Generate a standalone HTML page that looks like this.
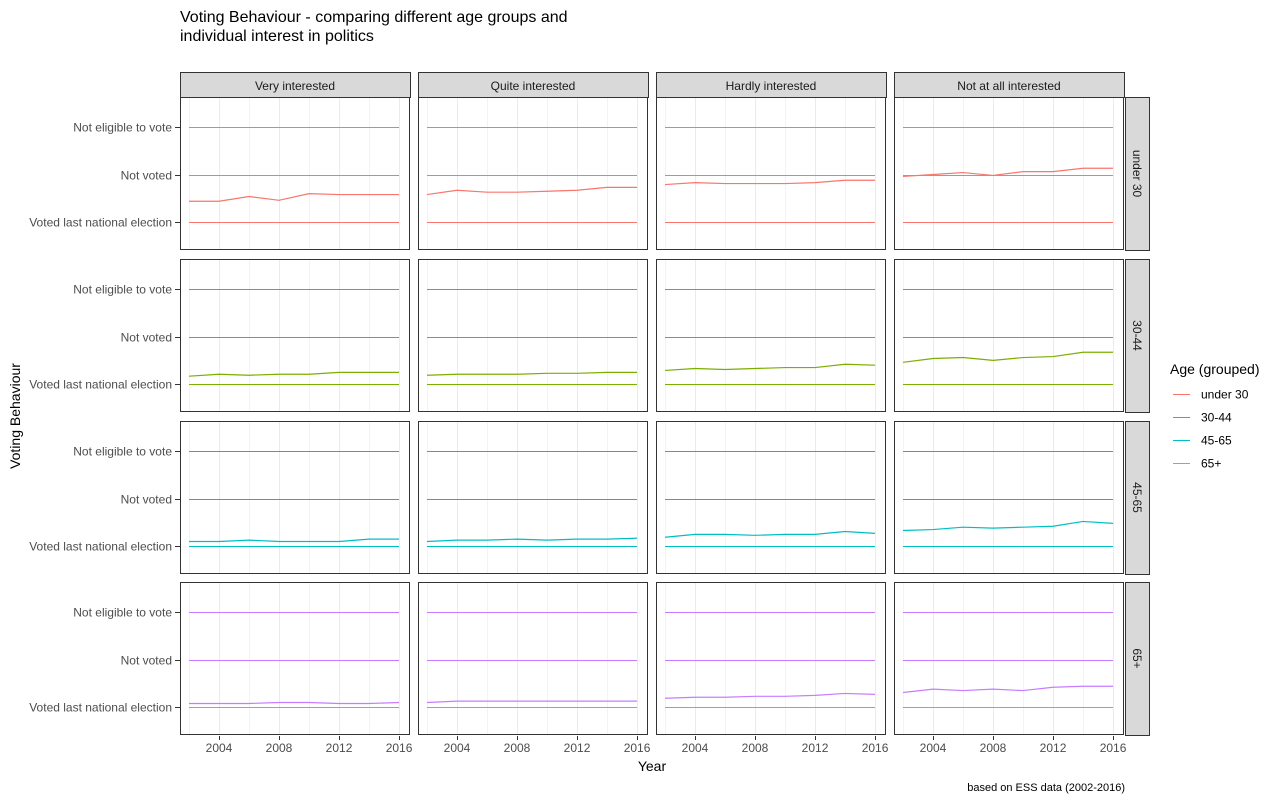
<!DOCTYPE html>
<html><head><meta charset="utf-8"><style>
body{margin:0;background:#fff;}
svg{display:block;font-family:"Liberation Sans",Arial,sans-serif;}
</style></head><body>
<svg id="chart" width="1278" height="800" viewBox="0 0 1278 800"></svg>
<script>
const years=[2002,2004,2006,2008,2010,2012,2014,2016];
const interestCols=["Very interested","Quite interested","Hardly interested","Not at all interested"];
const ageRows=["under 30","30-44","45-65","65+"];
const yLabels=["Voted last national election","Not voted","Not eligible to vote"];
const xTicks=[2004,2008,2012,2016];
const colors=["#F8766D","#7CAE00","#00BFC4","#C77CFF"];
const u30=[[1.44,1.44,1.54,1.46,1.60,1.58,1.58,1.58],[1.58,1.67,1.63,1.63,1.65,1.67,1.73,1.73],[1.79,1.83,1.81,1.81,1.81,1.83,1.88,1.88],[1.96,2.0,2.04,1.98,2.06,2.06,2.13,2.13]];
const a3044=[[1.17,1.21,1.19,1.21,1.21,1.25,1.25,1.25],[1.19,1.21,1.21,1.21,1.23,1.23,1.25,1.25],[1.29,1.33,1.31,1.33,1.35,1.35,1.42,1.40],[1.46,1.54,1.56,1.50,1.56,1.58,1.67,1.67]];
const a4565=[[1.10,1.10,1.13,1.10,1.10,1.10,1.15,1.15],[1.10,1.13,1.13,1.15,1.13,1.15,1.15,1.17],[1.19,1.25,1.25,1.23,1.25,1.25,1.31,1.27],[1.33,1.35,1.40,1.38,1.40,1.42,1.52,1.48]];
const a65=[[1.08,1.08,1.08,1.10,1.10,1.08,1.08,1.10],[1.10,1.13,1.13,1.13,1.13,1.13,1.13,1.13],[1.19,1.21,1.21,1.23,1.23,1.25,1.29,1.27],[1.31,1.38,1.35,1.38,1.35,1.42,1.44,1.44]];
const series=[u30,a3044,a4565,a65];

const svg=document.getElementById('chart');
const NS='http://www.w3.org/2000/svg';
function mk(t,a,p){const e=document.createElementNS(NS,t);for(const k in a)e.setAttribute(k,a[k]);(p||svg).appendChild(e);return e;}
const colX=[180,418,656,894],pw=230;
const rowY=[97,259,421,582],ph=153;
const x0=2001.4,x1=2016.73,y0=0.4,y1=3.6;
function sx(c,v){return colX[c]+(v-x0)/(x1-x0)*pw;}
function sy(r,v){return rowY[r]+ph-(v-y0)/(y1-y0)*ph+1;}
function snap(v){return Math.round(v)+0.5;}

let t=mk('text',{x:180,y:22,'font-size':16,fill:'#000'});t.textContent='Voting Behaviour - comparing different age groups and';

t=mk('text',{x:180,y:41,'font-size':16,fill:'#000'});t.textContent='individual interest in politics';


for(let c=0;c<4;c++){
  const s=mk('rect',{x:colX[c]+0.5,y:72.5,width:pw,height:25,fill:'#D9D9D9',stroke:'#333','stroke-width':1});
  
  const st=mk('text',{x:colX[c]+pw/2,y:90,'font-size':12,'text-anchor':'middle',fill:'#1a1a1a'});st.textContent=interestCols[c];
  
}
for(let r=0;r<4;r++){
  const s=mk('rect',{x:1125.5,y:rowY[r]+0.5,width:24,height:ph,fill:'#D9D9D9',stroke:'#333','stroke-width':1});
  
  const cy=rowY[r]+ph/2;
  const st=mk('text',{x:1137,y:cy,'font-size':12,'text-anchor':'middle',fill:'#1a1a1a',transform:`rotate(90 1137 ${cy}) translate(0 4)`});st.textContent=ageRows[r];
  
  for(let i=0;i<3;i++){
    const yy=snap(sy(r,i+1));
    const lt=mk('text',{x:172,y:yy+4,'font-size':12,'text-anchor':'end',fill:'#4D4D4D'});lt.textContent=yLabels[i];
    
    mk('line',{x1:175,x2:180,y1:yy,y2:yy,stroke:'#333'});
  }
  for(let c=0;c<4;c++){
    const g=mk('g',{});
    mk('rect',{x:colX[c],y:rowY[r],width:pw,height:ph,fill:'#fff'},g);
    for(const yr of years){const xx=snap(sx(c,yr));mk('line',{x1:xx,x2:xx,y1:rowY[r],y2:rowY[r]+ph,stroke:'#EBEBEB','stroke-width':xTicks.includes(yr)?1:0.6},g);}
    for(let i=0;i<3;i++){
      const yy=snap(sy(r,i+1));
      const l=mk('line',{x1:sx(c,years[0]),x2:sx(c,years[years.length-1]),y1:yy,y2:yy,stroke:colors[r],'stroke-width':1},g);
      
    }
    const pts=years.map((yr,i)=>sx(c,yr)+','+sy(r,series[r][c][i])).join(' ');
    const pl=mk('polyline',{points:pts,fill:'none',stroke:colors[r],'stroke-width':1.2},g);
    
    mk('rect',{x:colX[c]+0.5,y:rowY[r]+0.5,width:pw-1,height:ph-1,fill:'none',stroke:'#333','stroke-width':1},g);
  }
}
for(let c=0;c<4;c++){
  for(const yr of xTicks){
    const xx=snap(sx(c,yr));
    mk('line',{x1:xx,x2:xx,y1:736,y2:740,stroke:'#333'});
    const xt=mk('text',{x:sx(c,yr),y:752,'font-size':12,'text-anchor':'middle',fill:'#4D4D4D'});xt.textContent=yr;
    
  }
}
t=mk('text',{x:652,y:771,'font-size':14,'text-anchor':'middle',fill:'#000'});t.textContent='Year';

t=mk('text',{x:20,y:416,'font-size':14,'text-anchor':'middle',fill:'#000',transform:'rotate(-90 20 416)'});t.textContent='Voting Behaviour';

t=mk('text',{x:1125,y:791,'font-size':11,'text-anchor':'end',fill:'#000'});t.textContent='based on ESS data (2002-2016)';

t=mk('text',{x:1170,y:374,'font-size':14,fill:'#000'});t.textContent='Age (grouped)';

for(let i=0;i<4;i++){
  const y=394.5+i*23;
  const g=mk('g',{});
  mk('line',{x1:1173,x2:1190,y1:y,y2:y,stroke:colors[i],'stroke-width':1},g);
  const lt=mk('text',{x:1201,y:y+4,'font-size':12,fill:'#000'},g);lt.textContent=ageRows[i];
}
</script>
</body></html>
